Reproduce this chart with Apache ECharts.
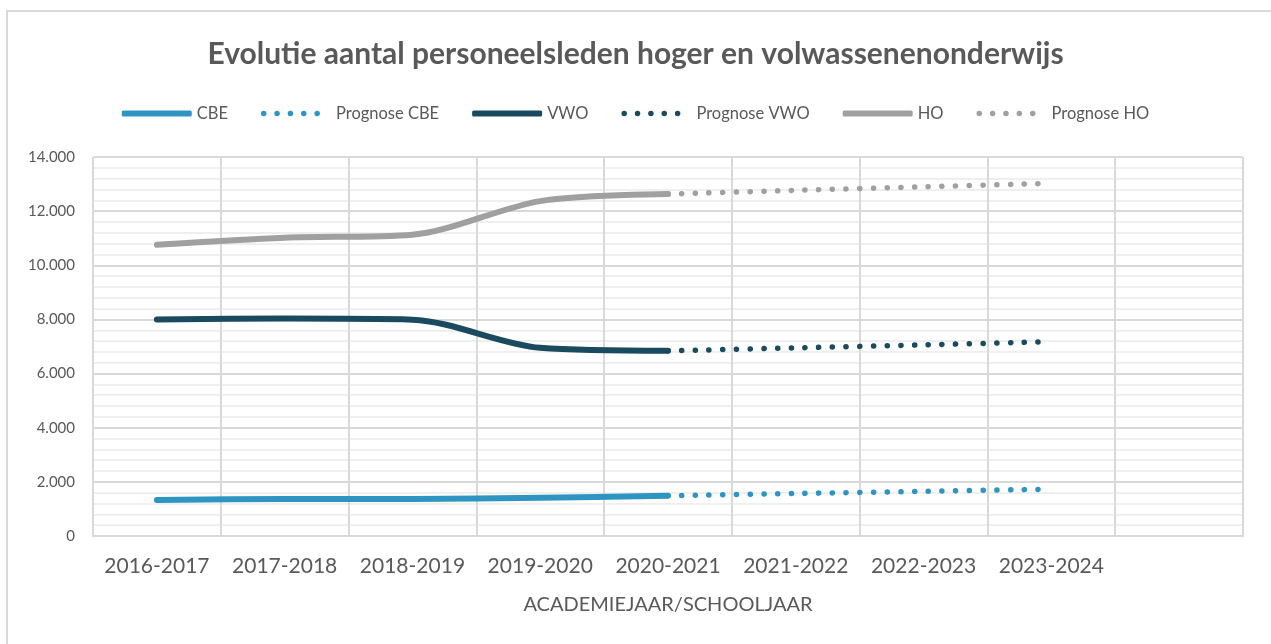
<!DOCTYPE html>
<html>
<head>
<meta charset="utf-8">
<script src="https://cdn.jsdelivr.net/npm/echarts@6/dist/echarts.min.js"></script>
<style>
  html, body { margin: 0; padding: 0; background: #fff; }
  #frame { position: absolute; left: 6px; top: 10px; width: 1300px; height: 700px; border: 2px solid #d9d9d9; box-sizing: border-box; }
  #chart { position: absolute; left: 0; top: 0; width: 1271px; height: 644px; }
</style>
</head>
<body>
<div id="frame"></div>
<div id="chart"></div>
<script>
// schooljaren (laatste categorie leeg, zoals in het origineel)
const years = ['2016-2017', '2017-2018', '2018-2019', '2019-2020', '2020-2021', '2021-2022', '2022-2023', '2023-2024', '']

const cbe = [1330, 1370, 1370, 1410, 1490, null, null, null, null]
const cbePrognose = [null, null, null, null, 1490, 1570, 1650, 1730, null]
const vwo = [8000, 8030, 7990, 6950, 6840, null, null, null, null]
const vwoPrognose = [null, null, null, null, 6840, 6950, 7060, 7180, null]
const ho = [10760, 11020, 11130, 12370, 12630, null, null, null, null]
const hoPrognose = [null, null, null, null, 12630, 12770, 12900, 13030, null]

const yTicks = [0, 2000, 4000, 6000, 8000, 10000, 12000, 14000]

const colors = { cbe: '#2e95c2', vwo: '#194a5d', ho: '#a0a0a0' }
const font = 'Lato, "Open Sans", sans-serif'

// legend icons: thick bar for the real data, five dots for the forecast
// (the trailing moveTo keeps the icon box 70 wide so the dots don't stretch)
const barIcon = 'roundRect'
const dotsIcon = 'path://' + [3, 17.5, 32, 46.5, 61].map(cx =>
  `M${cx - 3},3a3,3 0 1,0 6,0a3,3 0 1,0 -6,0Z`).join('') + 'M76,3Z'

function solid(name, data, color) {
  return {
    name,
    type: 'line',
    data,
    smooth: 0.3,
    symbol: 'none',
    z: 3,
    lineStyle: { width: 6, color, cap: 'round', join: 'round' },
    itemStyle: { color },
  }
}

function dotted(name, data, color) {
  return {
    name,
    type: 'line',
    data,
    smooth: 0.3,
    symbol: 'none',
    z: 2,
    lineStyle: { width: 5.5, color, type: [0.1, 13.6], cap: 'round' },
    itemStyle: { color },
  }
}

const chart = echarts.init(document.getElementById('chart'), null, { renderer: 'canvas' })

chart.setOption({
  backgroundColor: 'transparent',
  animation: false,
  title: {
    text: 'Evolutie aantal personeelsleden hoger en volwassenenonderwijs',
    left: 'center',
    top: 34,
    textStyle: { fontFamily: font, fontSize: 30, fontWeight: 'bold', color: '#595959' },
  },
  legend: {
    top: 100,
    left: 'center',
    itemWidth: 70,
    itemHeight: 6,
    itemGap: 33,
    textStyle: { fontFamily: font, fontSize: 16.5, color: '#595959' },
    data: [
      { name: 'CBE', icon: barIcon },
      { name: 'Prognose CBE', icon: dotsIcon },
      { name: 'VWO', icon: barIcon },
      { name: 'Prognose VWO', icon: dotsIcon },
      { name: 'HO', icon: barIcon },
      { name: 'Prognose HO', icon: dotsIcon },
    ],
  },
  grid: { left: 93, right: 28, top: 157, bottom: 108 },
  xAxis: {
    type: 'category',
    data: years,
    boundaryGap: true,
    name: 'ACADEMIEJAAR/SCHOOLJAAR',
    nameLocation: 'middle',
    nameGap: 59,
    nameTextStyle: { fontFamily: font, fontSize: 20, color: '#595959' },
    axisLine: { lineStyle: { color: '#d9d9d9', width: 2 } },
    axisTick: { show: false, interval: 0 },
    axisLabel: { interval: 0, fontFamily: font, fontSize: 21, color: '#595959', margin: 20 },
    splitLine: { show: true, interval: 0, lineStyle: { color: '#d9d9d9', width: 2 } },
  },
  yAxis: {
    type: 'value',
    min: yTicks[0],
    max: yTicks[yTicks.length - 1],
    interval: 2000,
    axisLine: { show: false },
    axisTick: { show: false },
    axisLabel: {
      fontFamily: font,
      fontSize: 15,
      color: '#595959',
      margin: 18,
      formatter: v => v === 0 ? '0' : v.toLocaleString('nl-BE'),
    },
    splitLine: { lineStyle: { color: '#d9d9d9', width: 2 } },
    minorTick: { show: false, splitNumber: 5 },
    minorSplitLine: { show: true, lineStyle: { color: '#efefef', width: 2 } },
  },
  series: [
    solid('CBE', cbe, colors.cbe),
    dotted('Prognose CBE', cbePrognose, colors.cbe),
    solid('VWO', vwo, colors.vwo),
    dotted('Prognose VWO', vwoPrognose, colors.vwo),
    solid('HO', ho, colors.ho),
    dotted('Prognose HO', hoPrognose, colors.ho),
  ],
})
</script>
</body>
</html>
